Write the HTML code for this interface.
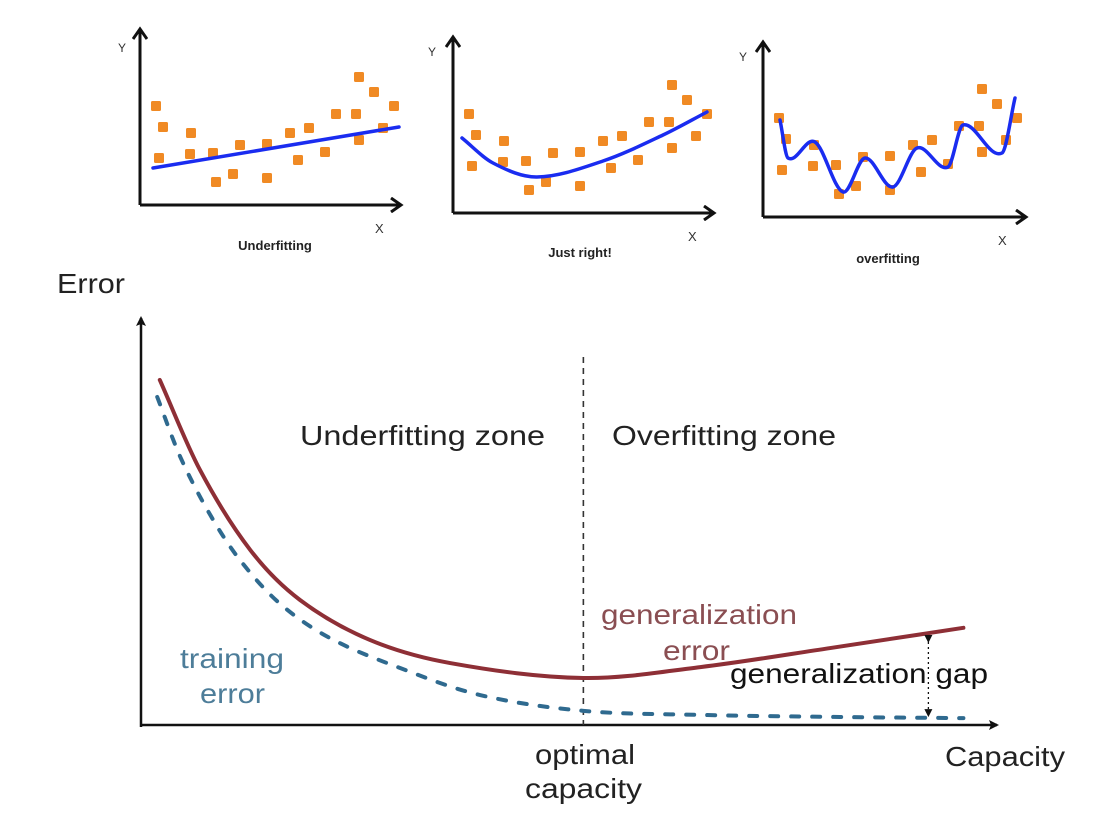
<!DOCTYPE html>
<html><head><meta charset="utf-8">
<style>
html,body{margin:0;padding:0;background:#fff;}
svg{display:block;}
text{font-family:"Liberation Sans",Arial,sans-serif;}
</style></head>
<body>
<svg id="fig" width="1101" height="816" viewBox="0 0 1101 816" xmlns="http://www.w3.org/2000/svg">
<defs>
<marker id="ah" markerWidth="10" markerHeight="10" refX="8" refY="5" orient="auto" markerUnits="userSpaceOnUse"><path d="M0,0 L10,5 L0,10 L2,5 z" fill="#111"/></marker>
<marker id="ahs" markerWidth="16" markerHeight="16" refX="11" refY="8" orient="auto" markerUnits="userSpaceOnUse"><path d="M2,1 L12,8 L2,15" fill="none" stroke="#111" stroke-width="3"/></marker>
<marker id="gh" markerWidth="8" markerHeight="8" refX="7" refY="4" orient="auto" markerUnits="userSpaceOnUse"><path d="M0,0 L8,4 L0,8 z" fill="#111"/></marker>
</defs>
<g id="panels"></g>
<g id="main"></g>
</svg>
<script>
// ---- panel data (offsets from each panel's origin, in panel units: x right, y up) ----
const pointX = [16,23,19,51,50,73,76,93,100,127,127,150,158,169,185,196,216,219,219,234,243,254];
const pointY = [99,78,47,72,51,52,23,31,60,61,27,72,45,77,53,91,91,65,128,113,77,99];
const underX = [13,259];
const underY = [37,78];
const rightX = [9,40,84,150,210,254];
const rightY = [75,50,36,52,78,101];
const overX = [17,25,52,80,102,130,154,185,200,239,252];
const overY = [97,59,75,25,59,30,69,50,92,64,119];
const panelNames = ["Underfitting","Just right!","overfitting"];

// ---- main chart data (capacity 0-100, error 0-100) ----
const genCap = [2.2,6.9,12.8,18.6,26.8,36.2,51.8,65.5,80.7,96.3];
const genErr = [85.2,63,43.2,30.9,21,15.3,11.6,14.3,19,24];
const trainCap = [1.9,4.6,8.1,11.6,16.3,22.1,30.3,39.7,51.8,65.5,80.7,96.3];
const trainErr = [81,66.2,51.9,40.7,29.9,21.5,14.1,7.4,3.5,2.5,2,1.7];
const optimalCap = 51.8;
const gapCap = 92.2;

const NS = "http://www.w3.org/2000/svg";
function mk(tag, attrs, parent){const e=document.createElementNS(NS,tag);for(const k in attrs)e.setAttribute(k,attrs[k]);parent.appendChild(e);return e;}
function smooth(pts){ // cubic Hermite parameterised by x
  const n=pts.length, m=[];
  for(let i=0;i<n;i++){
    const a=pts[Math.max(0,i-1)], b=pts[Math.min(n-1,i+1)];
    m.push((b[1]-a[1])/(b[0]-a[0]));
  }
  let d=`M${pts[0][0]},${pts[0][1]}`;
  for(let i=0;i<n-1;i++){
    const p1=pts[i],p2=pts[i+1],dx=(p2[0]-p1[0])/3;
    d+=` C${p1[0]+dx},${p1[1]+m[i]*dx} ${p2[0]-dx},${p2[1]-m[i+1]*dx} ${p2[0]},${p2[1]}`;
  }
  return d;
}

// ---- panels ----
const panels=document.getElementById('panels');
const cfg=[
 {ox:140,oy:205,top:30,right:400,lx:275,ly:250,ylx:118,yly:52,xlx:375,xly:233,cx:underX,cy:underY,smooth:false},
 {ox:453,oy:213,top:38,right:713,lx:580,ly:257,ylx:428,yly:56,xlx:688,xly:241,cx:rightX,cy:rightY,smooth:true},
 {ox:763,oy:217,top:43,right:1025,lx:888,ly:263,ylx:739,yly:61,xlx:998,xly:245,cx:overX,cy:overY,smooth:true}
];
cfg.forEach((c,pi)=>{
  const g=mk('g',{},panels);
  
  
  const sx=v=>c.ox+v, sy=v=>c.oy-v;
  const ya=mk('line',{x1:c.ox,y1:c.oy,x2:c.ox,y2:c.top,stroke:'#111','stroke-width':3,'marker-end':'url(#ahs)'},g);
  
  
  const xa=mk('line',{x1:c.ox,y1:c.oy,x2:c.right,y2:c.oy,stroke:'#111','stroke-width':3,'marker-end':'url(#ahs)'},g);
  
  
  const yl=mk('text',{x:c.ylx,y:c.yly,'font-size':12,fill:'#333'},g);yl.textContent='Y';
  
  
  const xl=mk('text',{x:c.xlx,y:c.xly,'font-size':13,fill:'#333'},g);xl.textContent='X';
  
  
  pointX.forEach((px,i)=>{
    const r=mk('rect',{x:sx(px)-5,y:sy(pointY[i])-5,width:10,height:10,fill:'#f08a24',rx:1.5},g);
    
    
  });
  const pts=c.cx.map((v,i)=>[sx(v),sy(c.cy[i])]);
  const d=c.smooth?smooth(pts):`M${pts[0][0]},${pts[0][1]} L${pts[1][0]},${pts[1][1]}`;
  const fit=mk('path',{d:d,fill:'none',stroke:'#1a2cf0','stroke-width':3.5,'stroke-linecap':'round'},g);
  
  
  const t=mk('text',{x:c.lx,y:c.ly,'font-size':13,'font-weight':'bold','text-anchor':'middle',fill:'#222'},g);
  t.textContent=panelNames[pi];
  
  
});

// ---- main chart ----
const m=document.getElementById('main');
const X0=141,X1=995,Y0=725,Y1=320;
const xs=v=>X0+v*(X1-X0)/100, ys=v=>Y0-v*(Y0-Y1)/100;
let e;
e=mk('line',{x1:X0,y1:Y0+2,x2:X0,y2:318,stroke:'#111','stroke-width':2.5,'marker-end':'url(#ah)'},m);


e=mk('line',{x1:X0,y1:Y0,x2:997,y2:Y0,stroke:'#111','stroke-width':2.5,'marker-end':'url(#ah)'},m);


e=mk('line',{x1:xs(optimalCap),y1:357,x2:xs(optimalCap),y2:Y0,stroke:'#333','stroke-width':1.6,'stroke-dasharray':'6,5'},m);


e=mk('path',{d:smooth(trainCap.map((v,i)=>[xs(v),ys(trainErr[i])])),fill:'none',stroke:'#2f6a8f','stroke-width':4,'stroke-dasharray':'8,13','stroke-linecap':'round'},m);


e=mk('path',{d:smooth(genCap.map((v,i)=>[xs(v),ys(genErr[i])])),fill:'none',stroke:'#8e2f36','stroke-width':4,'stroke-linecap':'round'},m);


// gap arrow
e=mk('line',{x1:xs(gapCap),y1:ys(20.5),x2:xs(gapCap),y2:ys(2.2),stroke:'#111','stroke-width':1.3,'stroke-dasharray':'2,3','marker-start':'url(#gh)','marker-end':'url(#gh)'},m);



function txt(x,y,s,name,opts){const t=mk('text',Object.assign({x:x,y:y,'font-size':28,fill:'#222',lengthAdjust:'spacingAndGlyphs'},opts||{}),m);t.textContent=s;return t;}
txt(57,293,'Error','y-axis-title',{textLength:68});
txt(300,445,'Underfitting zone','underfitting-zone-label',{textLength:245});
txt(612,445,'Overfitting zone','overfitting-zone-label',{textLength:224});
txt(601,624,'generalization','generalization-error-label',{fill:'#8a4e52',textLength:196});
txt(663,660,'error','generalization-error-label-2',{fill:'#8a4e52',textLength:67});
txt(180,668,'training','training-error-label',{fill:'#4d7d99',textLength:104});
txt(200,703,'error','training-error-label-2',{fill:'#4d7d99',textLength:65});
txt(730,683,'generalization gap','generalization-gap-label',{fill:'#111',textLength:258});
txt(535,764,'optimal','optimal-label',{textLength:100});
txt(525,798,'capacity','optimal-capacity-label',{textLength:117});
txt(945,766,'Capacity','x-axis-title',{textLength:120});
</script>
</body></html>
